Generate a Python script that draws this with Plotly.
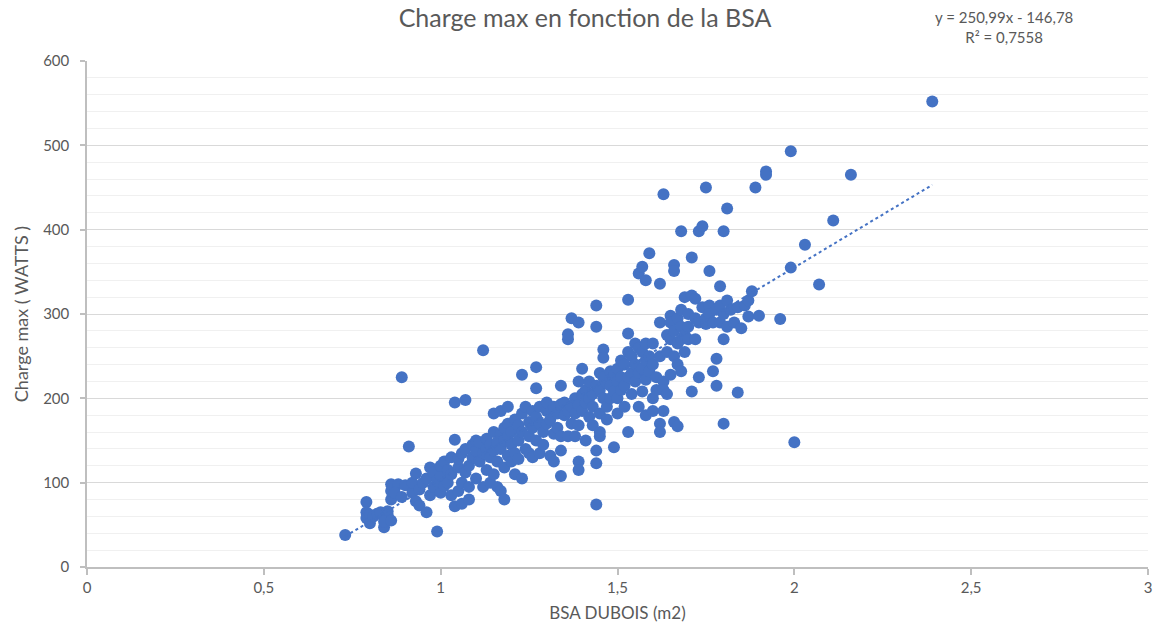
import plotly.graph_objects as go

# BSA (m2) and max load (W)
bsa = [
    0.73, 0.79, 0.79, 0.79, 0.80, 0.80, 0.81, 0.82, 0.83, 0.84, 0.85, 0.85, 0.84, 0.86, 0.86, 0.86, 0.87, 0.86, 0.88, 0.87,
    0.89, 0.89, 0.90, 0.91, 0.92, 0.92, 0.93, 0.93, 0.94, 0.94, 0.95, 0.96, 0.96, 0.97, 0.97, 0.98, 0.98, 0.99, 0.99, 1.00,
    1.00, 1.00, 1.01, 1.01, 1.02, 1.02, 1.03, 1.03, 1.03, 1.04, 1.04, 1.04, 1.05, 1.05, 1.05, 1.06, 1.06, 1.06, 1.07, 1.07,
    1.07, 1.08, 1.08, 1.08, 1.09, 1.09, 1.10, 1.10, 1.10, 1.11, 1.11, 1.12, 1.12, 1.12, 1.13, 1.13, 1.13, 1.14, 1.14, 1.14,
    1.15, 1.15, 1.15, 1.15, 1.16, 1.16, 1.16, 1.17, 1.17, 1.17, 1.17, 1.18, 1.18, 1.18, 1.18, 1.19, 1.19, 1.19, 1.19, 1.20,
    1.20, 1.20, 1.21, 1.21, 1.21, 1.22, 1.22, 1.22, 1.23, 1.23, 1.23, 1.23, 1.24, 1.24, 1.25, 1.25, 1.25, 1.26, 1.26, 1.26,
    1.27, 1.27, 1.27, 1.27, 1.28, 1.28, 1.28, 1.29, 1.29, 1.30, 1.30, 1.30, 1.31, 1.31, 1.32, 1.32, 1.32, 1.33, 1.33, 1.34,
    1.34, 1.34, 1.34, 1.34, 1.35, 1.35, 1.36, 1.36, 1.36, 1.36, 1.37, 1.37, 1.37, 1.38, 1.38, 1.38, 1.39, 1.39, 1.39, 1.39,
    1.39, 1.39, 1.40, 1.40, 1.40, 1.41, 1.41, 1.41, 1.42, 1.42, 1.42, 1.43, 1.43, 1.43, 1.44, 1.44, 1.44, 1.44, 1.44, 1.44,
    1.45, 1.45, 1.45, 1.45, 1.45, 1.46, 1.46, 1.46, 1.46, 1.47, 1.47, 1.47, 1.48, 1.48, 1.48, 1.49, 1.49, 1.49, 1.50, 1.50,
    1.50, 1.50, 1.51, 1.51, 1.51, 1.52, 1.52, 1.52, 1.53, 1.53, 1.53, 1.53, 1.53, 1.54, 1.54, 1.54, 1.55, 1.55, 1.55, 1.56,
    1.56, 1.56, 1.56, 1.57, 1.57, 1.57, 1.57, 1.58, 1.58, 1.58, 1.58, 1.58, 1.59, 1.59, 1.59, 1.60, 1.60, 1.60, 1.60, 1.61,
    1.61, 1.62, 1.62, 1.62, 1.62, 1.62, 1.63, 1.63, 1.63, 1.63, 1.64, 1.64, 1.64, 1.65, 1.65, 1.65, 1.65, 1.66, 1.66, 1.66,
    1.66, 1.66, 1.67, 1.67, 1.67, 1.67, 1.68, 1.68, 1.68, 1.68, 1.68, 1.69, 1.69, 1.69, 1.70, 1.70, 1.70, 1.71, 1.71, 1.71,
    1.72, 1.72, 1.72, 1.73, 1.73, 1.73, 1.74, 1.74, 1.75, 1.75, 1.75, 1.76, 1.76, 1.76, 1.77, 1.77, 1.78, 1.78, 1.78, 1.79,
    1.79, 1.79, 1.80, 1.80, 1.80, 1.80, 1.81, 1.81, 1.81, 1.82, 1.83, 1.84, 1.84, 1.85, 1.86, 1.87, 1.87, 1.88, 1.89, 1.90,
    1.92, 1.92, 1.96, 1.99, 1.99, 2.00, 2.03, 2.07, 2.11, 2.16, 2.39,
]
charge = [
    38, 77, 65, 58, 62, 52, 60, 63, 65, 47, 66, 62, 54, 55, 80, 90, 95, 98, 98, 88,
    83, 225, 97, 143, 88, 100, 111, 78, 73, 92, 100, 105, 65, 118, 85, 95, 112, 42, 102, 108,
    120, 88, 125, 96, 115, 100, 110, 130, 85, 72, 151, 195, 118, 128, 90, 135, 100, 75, 198, 112,
    140, 120, 80, 95, 130, 145, 138, 105, 150, 148, 125, 257, 135, 95, 115, 140, 152, 145, 130, 100,
    182, 160, 138, 110, 148, 125, 95, 185, 158, 140, 90, 165, 150, 118, 80, 190, 170, 155, 132, 160,
    145, 125, 175, 135, 110, 168, 150, 128, 105, 228, 182, 160, 140, 190, 172, 155, 135, 185, 165, 130,
    237, 212, 178, 150, 190, 170, 135, 160, 145, 185, 195, 170, 175, 132, 190, 158, 125, 182, 165, 193,
    215, 155, 138, 108, 180, 195, 185, 270, 276, 155, 295, 190, 170, 200, 182, 155, 290, 220, 192, 168,
    125, 115, 235, 205, 185, 210, 195, 150, 220, 200, 178, 190, 168, 205, 285, 310, 215, 138, 123, 74,
    230, 210, 182, 155, 160, 258, 225, 248, 200, 218, 190, 175, 232, 215, 200, 228, 208, 142, 235, 220,
    200, 182, 245, 225, 210, 240, 215, 190, 317, 277, 255, 225, 160, 250, 230, 205, 265, 240, 220, 348,
    260, 230, 190, 356, 255, 235, 208, 340, 265, 245, 222, 180, 372, 250, 232, 265, 240, 200, 185, 225,
    210, 336, 290, 250, 170, 160, 442, 220, 210, 185, 275, 255, 205, 298, 290, 270, 228, 358, 351, 280,
    250, 172, 295, 265, 240, 167, 398, 305, 285, 270, 232, 320, 275, 255, 300, 285, 270, 367, 322, 208,
    318, 295, 270, 398, 290, 225, 404, 308, 450, 295, 288, 351, 310, 300, 290, 232, 305, 247, 215, 333,
    310, 290, 398, 300, 270, 170, 425, 316, 285, 305, 290, 207, 308, 283, 310, 297, 316, 327, 450, 298,
    469, 465, 294, 355, 493, 148, 382, 335, 411, 465, 552,
]

# Linear trend coefficients shown on the chart
slope = 250.99
intercept = -146.78
trend_x = [min(bsa), max(bsa)]
trend_y = [slope * v + intercept for v in trend_x]

x_ticks = [0, 0.5, 1, 1.5, 2, 2.5, 3]
y_ticks = [0, 100, 200, 300, 400, 500, 600]

blue = "#4472C4"
text_col = "#595959"
font_family = "Lato, 'Open Sans', sans-serif"

fig = go.Figure()
fig.add_trace(go.Scatter(
    x=bsa, y=charge, mode="markers",
    marker=dict(color=blue, size=12, line=dict(width=0)),
    showlegend=False, hoverinfo="x+y",
))
fig.add_trace(go.Scatter(
    x=trend_x, y=trend_y, mode="lines",
    line=dict(color=blue, width=2, dash="dot"),
    showlegend=False, hoverinfo="skip",
))

fig.update_layout(
    width=1170, height=638,
    margin=dict(l=87, r=22, t=61, b=71),
    paper_bgcolor="white", plot_bgcolor="white",
    separators=", ",
    font=dict(family=font_family, color=text_col, size=15),
    title=dict(text="Charge max en fonction de la BSA", x=0.5, xanchor="center",
               y=0.972, yanchor="middle", font=dict(size=25, color=text_col)),
    xaxis=dict(
        range=[0, 3], tickvals=x_ticks, showgrid=False, zeroline=False,
        showline=True, linecolor="#BFBFBF", linewidth=1.5,
        ticks="outside", ticklen=6, tickcolor="#BFBFBF", tickwidth=1.5,
        tickfont=dict(size=15, color=text_col),
        title=dict(text="BSA DUBOIS (m2)", font=dict(size=17, color=text_col), standoff=12),
    ),
    yaxis=dict(
        range=[0, 600], tickvals=y_ticks, showgrid=True, gridcolor="#D9D9D9", gridwidth=1.2,
        zeroline=False, showline=True, linecolor="#BFBFBF", linewidth=1.5,
        ticks="outside", ticklen=5, tickcolor="#BFBFBF", tickwidth=1.5,
        ticklabelstandoff=8,
        tickfont=dict(size=15, color=text_col),
        minor=dict(dtick=20, showgrid=True, gridcolor="#F0F0F0", gridwidth=1.2, ticks=""),
        title=dict(text="Charge max ( WATTS )", font=dict(size=18, color=text_col), standoff=10),
    ),
    annotations=[
        dict(text="y = 250,99x - 146,78<br>R² = 0,7558", xref="paper", yref="paper",
             x=0.864, y=1.067, xanchor="center", yanchor="middle", showarrow=False,
             align="center", font=dict(size=15, color=text_col)),
    ],
)

fig.write_html("out.html")
